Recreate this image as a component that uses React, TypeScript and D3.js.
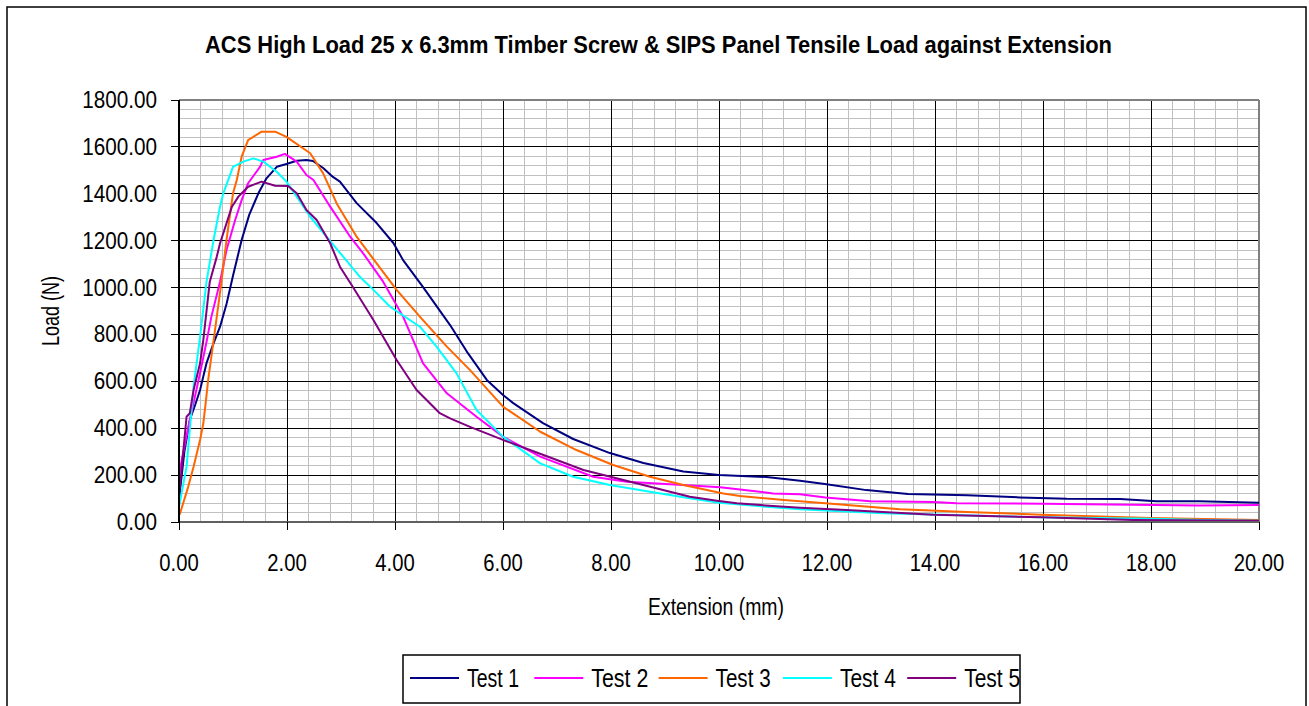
import React from "react";
import * as d3 from "d3";

const title = "ACS High Load 25 x 6.3mm Timber Screw & SIPS Panel Tensile Load against Extension";
const xAxisTitle = "Extension (mm)";
const yAxisTitle = "Load (N)";
const seriesNames = ["Test 1", "Test 2", "Test 3", "Test 4", "Test 5"];
const seriesColors = ["#000080", "#FF00FF", "#FF6600", "#00FFFF", "#800080"];

const xMajorTicks = [0, 2, 4, 6, 8, 10, 12, 14, 16, 18, 20];
const yMajorTicks = [0, 200, 400, 600, 800, 1000, 1200, 1400, 1600, 1800];

const test1: [number, number][] = [
  [0, 95], [0.1, 300], [0.2, 435], [0.3, 500], [0.39, 563], [0.51, 678], [0.62, 750], [0.76, 833],
  [0.88, 930], [1.0, 1050], [1.16, 1203], [1.3, 1310], [1.47, 1402], [1.62, 1466], [1.81, 1515],
  [1.99, 1527], [2.18, 1541], [2.36, 1544], [2.48, 1540], [2.67, 1510], [2.85, 1472], [2.98, 1452],
  [3.29, 1360], [3.66, 1275], [3.97, 1190], [4.15, 1117], [4.52, 1002], [5.02, 840], [5.35, 720],
  [5.7, 606], [6.0, 542], [6.19, 507], [6.74, 422], [7.3, 354], [7.98, 294], [8.6, 252], [9.34, 215],
  [10.0, 200], [10.88, 192], [11.5, 176], [11.96, 162], [12.73, 136], [13.5, 119], [14.6, 114],
  [15.57, 105], [16.44, 99], [17.43, 98], [18.1, 88], [18.9, 88], [20.0, 82],
];
const test2: [number, number][] = [
  [0, 200], [0.05, 264], [0.2, 435], [0.39, 635], [0.51, 769], [0.6, 876], [0.76, 1025], [0.88, 1160],
  [1.04, 1288], [1.16, 1373], [1.28, 1445], [1.5, 1515], [1.56, 1544], [1.81, 1558], [1.96, 1570],
  [2.18, 1537], [2.36, 1480], [2.49, 1459], [2.8, 1345], [3.17, 1217], [3.41, 1146], [3.78, 1025],
  [4.15, 876], [4.52, 677], [4.96, 549], [5.51, 449], [6.0, 364], [6.69, 279], [7.67, 193], [8.29, 172],
  [9.33, 158], [10.02, 148], [10.39, 139], [11.0, 122], [11.5, 118], [11.97, 105], [12.8, 88],
  [13.97, 85], [14.4, 80], [16.0, 78], [18.9, 70], [20.0, 72],
];
const test3: [number, number][] = [
  [0, 30], [0.02, 37], [0.17, 150], [0.27, 236], [0.39, 350], [0.42, 385], [0.45, 420], [0.5, 520],
  [0.54, 606], [0.6, 705], [0.7, 876], [0.79, 1032], [0.88, 1203], [1.0, 1402], [1.07, 1459],
  [1.16, 1558], [1.28, 1629], [1.53, 1665], [1.78, 1665], [1.99, 1643], [2.43, 1573], [2.67, 1487],
  [2.92, 1359], [3.29, 1217], [3.66, 1103], [4.03, 990], [4.46, 876], [4.96, 748], [5.39, 648],
  [6.0, 492], [6.69, 385], [7.36, 307], [8.04, 243], [8.72, 193], [9.34, 158], [10.08, 122],
  [10.39, 111], [11.2, 94], [11.97, 80], [13.35, 54], [14.59, 43], [15.97, 31], [17.98, 17], [20.0, 8],
];
const test4: [number, number][] = [
  [0, 65], [0.14, 236], [0.27, 577], [0.39, 790], [0.51, 1025], [0.64, 1203], [0.76, 1345], [0.82, 1402],
  [1.0, 1515], [1.19, 1537], [1.38, 1551], [1.56, 1537], [1.81, 1494], [1.99, 1452], [2.18, 1388],
  [2.43, 1302], [2.73, 1217], [3.04, 1132], [3.35, 1046], [3.6, 990], [3.91, 918], [4.46, 833],
  [4.77, 748], [5.14, 634], [5.51, 478], [6.0, 364], [6.69, 250], [7.3, 193], [7.98, 158], [8.72, 129],
  [9.46, 101], [10.0, 82], [10.88, 65], [11.5, 54], [13.04, 37], [14.34, 30], [15.97, 20], [17.98, 14],
  [19.0, 8], [20.0, 5],
];
const test5: [number, number][] = [
  [0, 108], [0.14, 449], [0.2, 464], [0.27, 563], [0.39, 677], [0.45, 776], [0.57, 1025], [0.7, 1132],
  [0.76, 1189], [0.98, 1345], [1.1, 1388], [1.28, 1430], [1.53, 1452], [1.78, 1434], [2.02, 1433],
  [2.18, 1402], [2.36, 1331], [2.55, 1288], [2.8, 1189], [2.98, 1089], [3.2, 1010], [3.6, 862],
  [4.03, 691], [4.4, 563], [4.83, 464], [5.02, 442], [5.39, 406], [6.0, 350], [6.75, 286], [7.49, 222],
  [8.23, 179], [9.46, 108], [9.96, 91], [10.33, 80], [11.0, 68], [11.5, 61], [12.36, 51], [13.97, 31],
  [15.97, 20], [17.67, 9], [20.0, 5],
];
const allSeries = [test1, test2, test3, test4, test5];

const W = 1309;
const H = 706;
const PL = 179, PR = 1259, PT = 100, PB = 522;
const FONT = "'Liberation Sans', Arial, sans-serif";

export default function App() {
  const x = d3.scaleLinear().domain([0, 20]).range([PL, PR]);
  const y = d3.scaleLinear().domain([0, 1800]).range([PB, PT]);
  const line = d3.line<[number, number]>().x((d) => x(d[0])).y((d) => y(d[1]));
  const xMinor = d3.range(0, 20.0001, 0.4);
  const yMinor = d3.range(0, 1800.001, 40);
  const legendX0 = 410;
  const legendStep = 124.3;
  const legendTextLen = [52, 57, 55, 56, 56];

  return (
    <svg width={W} height={H} style={{ position: "absolute", left: 0, top: 0, background: "#fff" }}
      fontFamily={FONT}>
      <rect x={0} y={0} width={W} height={H} fill="#fff" />
      <rect x={7} y={7} width={1299} height={720} fill="none" stroke="#000" strokeWidth={1.5} />
      <text x={658.5} y={53} textAnchor="middle" fontSize={23} fontWeight="bold" textLength={907}
        lengthAdjust="spacingAndGlyphs">{title}</text>

      <g shapeRendering="crispEdges">
        {xMinor.map((v, i) => (
          <line key={"xm" + i} x1={x(v)} x2={x(v)} y1={PT} y2={PB} stroke="#c0c0c0" strokeWidth={1} />
        ))}
        {yMinor.map((v, i) => (
          <line key={"ym" + i} x1={PL} x2={PR} y1={y(v)} y2={y(v)} stroke="#c0c0c0" strokeWidth={1} />
        ))}
        {xMajorTicks.map((v) => (
          <line key={"xg" + v} x1={x(v)} x2={x(v)} y1={PT} y2={PB} stroke="#000" strokeWidth={1} />
        ))}
        {yMajorTicks.map((v) => (
          <line key={"yg" + v} x1={PL} x2={PR} y1={y(v)} y2={y(v)} stroke="#000" strokeWidth={1} />
        ))}
        <line x1={PL} x2={PR} y1={PT} y2={PT} stroke="#808080" strokeWidth={2} />
        <line x1={PR} x2={PR} y1={PT} y2={PB} stroke="#808080" strokeWidth={2} />
      </g>

      {allSeries.map((s, i) => (
        <path key={"s" + i} d={line(s) || ""} fill="none" stroke={seriesColors[i]} strokeWidth={2}
          strokeLinejoin="round" />
      ))}

      <g shapeRendering="crispEdges">
        <line x1={PL} x2={PR} y1={PB} y2={PB} stroke="#606060" strokeWidth={2} />
        <line x1={PL} x2={PL} y1={PT} y2={PB} stroke="#000" strokeWidth={2} />
        {xMajorTicks.map((v) => (
          <line key={"xtk" + v} x1={x(v)} x2={x(v)} y1={PB} y2={PB + 8} stroke="#000" strokeWidth={1} />
        ))}
        {yMajorTicks.map((v) => (
          <line key={"ytk" + v} x1={PL - 8} x2={PL} y1={y(v)} y2={y(v)} stroke="#000" strokeWidth={1} />
        ))}
      </g>
      {xMajorTicks.map((v) => (
        <text key={"xt" + v} transform={`translate(${x(v)},571) scale(0.88,1)`} textAnchor="middle" fontSize={23}>
          {v.toFixed(2)}
        </text>
      ))}
      {yMajorTicks.map((v) => (
        <text key={"yt" + v} transform={`translate(157,${y(v) + 8}) scale(0.9,1)`} textAnchor="end" fontSize={23}>
          {v.toFixed(2)}
        </text>
      ))}
      <text x={716} y={615} textAnchor="middle" fontSize={23} textLength={136}
        lengthAdjust="spacingAndGlyphs">{xAxisTitle}</text>
      <text transform="translate(59,311) rotate(-90)" textAnchor="middle" fontSize={23} textLength={70}
        lengthAdjust="spacingAndGlyphs">{yAxisTitle}</text>

      <rect x={403} y={655} width={617} height={48} fill="#fff" stroke="#000" strokeWidth={1.5} />
      {seriesNames.map((n, i) => (
        <g key={"lg" + i}>
          <line x1={legendX0 + i * legendStep} x2={legendX0 + i * legendStep + 49} y1={678} y2={678}
            stroke={seriesColors[i]} strokeWidth={2} />
          <text x={legendX0 + i * legendStep + 57} y={687} fontSize={25} textLength={legendTextLen[i]}
            lengthAdjust="spacingAndGlyphs">{n}</text>
        </g>
      ))}
    </svg>
  );
}
